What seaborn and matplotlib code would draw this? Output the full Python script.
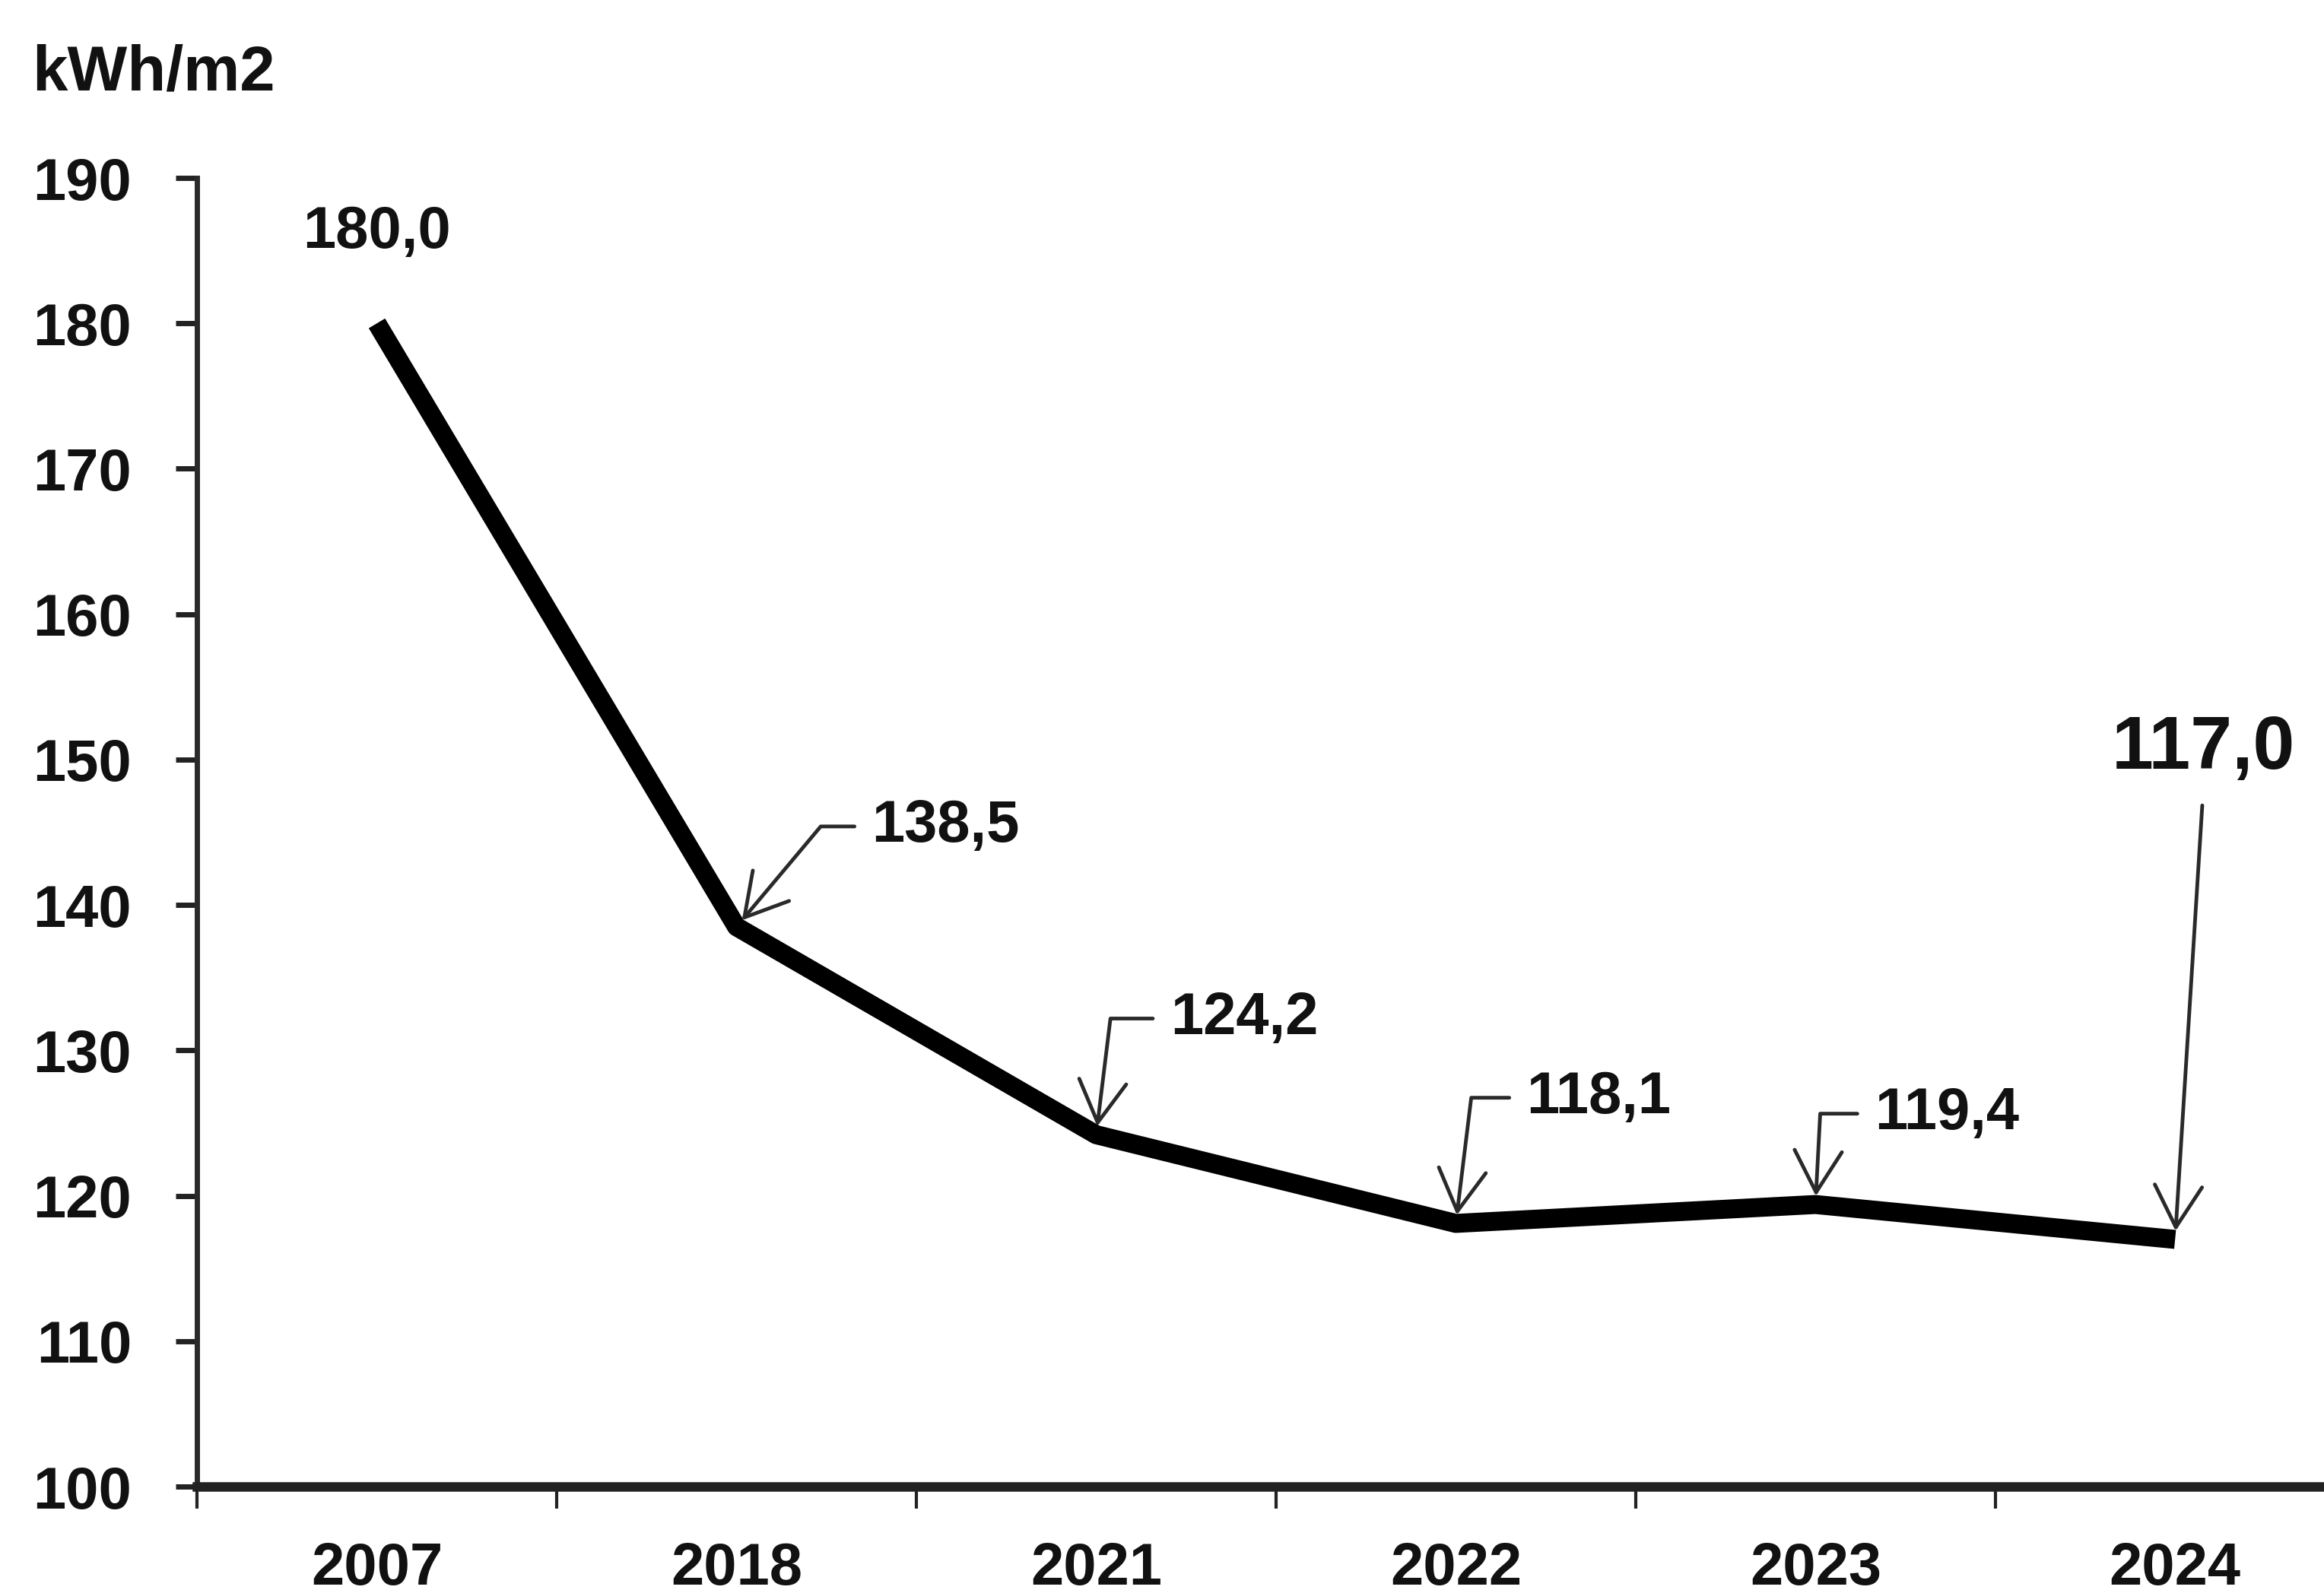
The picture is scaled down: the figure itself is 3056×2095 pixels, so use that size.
import matplotlib
matplotlib.use("Agg")
import matplotlib.pyplot as plt
import seaborn as sns
import pandas as pd
from matplotlib.ticker import FixedLocator, NullFormatter

# Energy use per square metre, by year
years = ["2007", "2018", "2021", "2022", "2023", "2024"]
values = [180.0, 138.5, 124.2, 118.1, 119.4, 117.0]
value_labels = ["180,0", "138,5", "124,2", "118,1", "119,4", "117,0"]
y_ticks = [100, 110, 120, 130, 140, 150, 160, 170, 180, 190]
unit_label = "kWh/m2"

df = pd.DataFrame({"year": years, "value": values})

sns.set_theme(style="white")
plt.rcParams["font.family"] = ["Liberation Sans", "DejaVu Sans"]
plt.rcParams["font.weight"] = "bold"

FS = 56
INK = "#111111"

fig = plt.figure(figsize=(30.56, 20.95), dpi=100)
ax = fig.add_axes([0.0848, 0.0668, 0.9285, 0.8215])

sns.lineplot(data=df, x="year", y="value", ax=ax, color="black",
             linewidth=18, solid_joinstyle="round", solid_capstyle="butt",
             sort=False)

ax.set_xlim(-0.5, len(years) - 0.5)
ax.set_ylim(100, 190)
ax.set_yticks(y_ticks)
ax.set_yticklabels([str(t) for t in y_ticks], fontsize=FS, fontweight="bold", color=INK)
ax.set_xticks(range(len(years)))
ax.set_xticklabels(years, fontsize=FS, fontweight="bold", color=INK)
ax.xaxis.set_minor_locator(FixedLocator([i - 0.5 for i in range(len(years) + 1)]))
ax.xaxis.set_minor_formatter(NullFormatter())
ax.tick_params(axis="x", which="major", length=0, pad=52)
ax.tick_params(axis="x", which="minor", length=21, width=3, color="#222222",
               direction="out", bottom=True)
ax.tick_params(axis="y", which="major", length=20, width=5, color="#222222",
               direction="out", left=True, pad=42)
ax.set_xlabel("")
ax.set_ylabel("")

for side in ["top", "right"]:
    ax.spines[side].set_visible(False)
ax.spines["left"].set_linewidth(5)
ax.spines["left"].set_color("#2a2a2a")
ax.spines["bottom"].set_linewidth(9)
ax.spines["bottom"].set_color("#222222")
ax.grid(False)

fig.text(0.0137, 0.954, unit_label, fontsize=60, fontweight="bold", color=INK,
         ha="left", va="center")

arrow_kw = dict(arrowstyle="->,head_length=0.7,head_width=0.4", color="#2a2a2a",
                lw=3.5, shrinkA=14, shrinkB=8, mutation_scale=56)

# first point: plain label above the line
ax.annotate(value_labels[0], xy=(0, values[0]), xytext=(0, 86),
            textcoords="offset points", ha="center", va="center",
            fontsize=FS, fontweight="bold", color=INK)

# elbow arrows: label offset (pt) and angle of the final leg
elbow = {1: ((128, 95), 50), 2: ((70, 110), 83), 3: ((67, 119), 83), 4: ((56, 86), 87)}
for i, ((dx, dy), angB) in elbow.items():
    ax.annotate(value_labels[i], xy=(i, values[i]), xytext=(dx, dy),
                textcoords="offset points", ha="left", va="center",
                fontsize=FS, fontweight="bold", color=INK,
                arrowprops=dict(arrow_kw, relpos=(0, 0.5),
                                connectionstyle=f"angle,angleA=0,angleB={angB},rad=0"))

# last point: large label with a long straight arrow
ax.annotate(value_labels[5], xy=(5, values[5]), xytext=(27, 464),
            textcoords="offset points", ha="center", va="center",
            fontsize=71, fontweight="bold", color=INK,
            arrowprops=dict(arrow_kw, relpos=(0.5, 0), shrinkA=18,
                            connectionstyle="arc3,rad=0"))

fig.savefig("out.png", dpi=100, facecolor="white")
